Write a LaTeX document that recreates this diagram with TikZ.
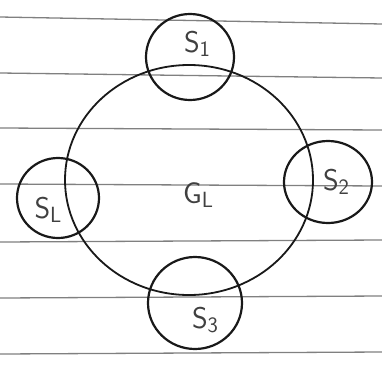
\documentclass[tikz,border=0pt]{standalone}
\usetikzlibrary{shapes.geometric}
\newcommand{\lowsub}[1]{\raisebox{-4pt}{\fontsize{22}{22}\selectfont #1}}
\begin{document}
\begin{tikzpicture}[x=1pt,y=-1pt,
  rule/.style={draw=black!50,line width=1.3pt},
  ring/.style={draw=black!90,line width=2.2pt,ellipse,inner sep=0pt},
  lbl/.style={text=black!75,font=\sffamily\fontsize{30}{30}\selectfont}]
\useasboundingbox (0,0) rectangle (382,372);
\fill[white] (0,0) rectangle (382,372);
% ruled paper
\foreach \a/\b in {17/24,73/78,128/130,184/186,242/240,298/296,354/352}
  \draw[rule] (0,\a) -- (382,\b);
% big circle
\node[ring,line width=1.8pt,minimum width=248pt,minimum height=230pt] (G) at (189,180) {};
\node[ring,minimum width=88pt,minimum height=86pt] (c1) at (190,57) {};
\node[ring,minimum width=88pt,minimum height=82pt] (c2) at (328,182) {};
\node[ring,minimum width=94pt,minimum height=92pt] (c3) at (195,303) {};
\node[ring,minimum width=82pt,minimum height=80pt] (c4) at (58,198) {};
\node[lbl] (tG) at (198,195) {G\lowsub{L}};
\node[lbl] (t1) at (197,44) {S\lowsub{1}};
\node[lbl] (t2) at (336,182) {S\lowsub{2}};
\node[lbl] (t3) at (205,320) {S\lowsub{3}};
\node[lbl] (t4) at (48,210) {S\lowsub{L}};
\end{tikzpicture}
\end{document}
